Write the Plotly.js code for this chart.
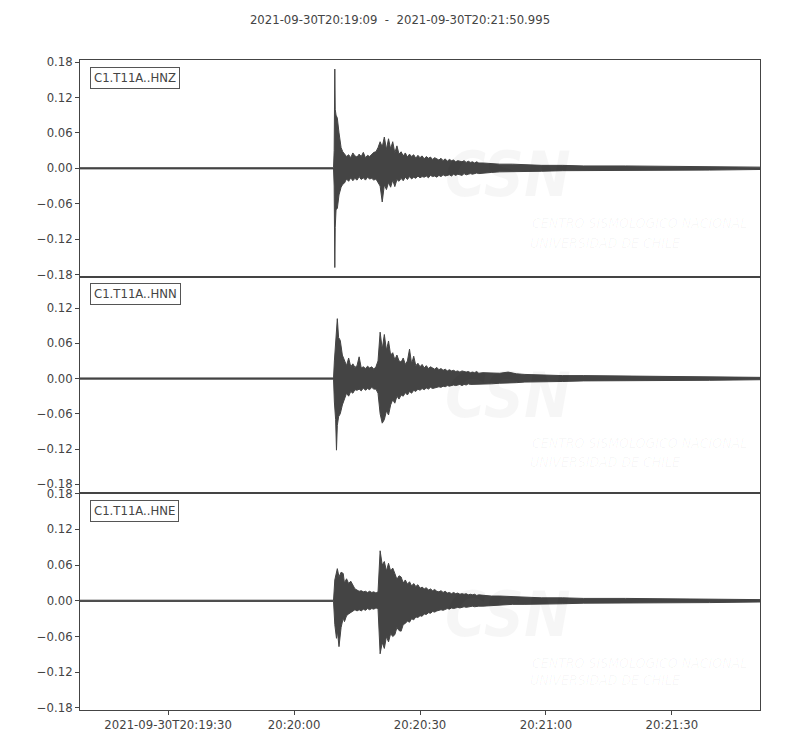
<!DOCTYPE html>
<html>
<head>
<meta charset="utf-8">
<script src="https://cdn.plot.ly/plotly-3.0.1.min.js"></script>
<style>html,body{margin:0;padding:0;background:#fff;}#chart{width:800px;height:750px;}</style>
</head>
<body>
<div id="chart"></div>
<script>
// Times are seconds after 2021-09-30T20:19:09; values are the upper / lower envelope of each trace
const channels = ["C1.T11A..HNZ", "C1.T11A..HNN", "C1.T11A..HNE"];

const tPre = [0, 10, 20, 30, 40, 50];
const tGrid = [63,63.5,64,64.5,65,65.5,66,66.5,67,67.5,68,68.5,69,69.5,70,
  70.5,71,71.5,72,72.5,73,73.5,74,74.5,75,75.5,76,
  76.5,77,77.5,78,78.5,79,79.5,80,80.5,81,81.5,82,82.5,83,83.5,84,84.5,85,
  85.5,86,86.5,87,87.5,88,88.5,89,89.5,90,90.5,91,91.5,92,92.5,93,93.5,94,94.5,95];

// HNZ
const tZ = [...tPre, 60.4,60.55,60.7,60.8,61.0,61.3,61.7,62.2,62.6, ...tGrid, 96,98,100,103,106,110,115,120,130,140,150,162];
const upZ = [0.001,0.001,0.001,0.001,0.001,0.001,
  0.001,0.03,0.168,0.1,0.09,0.085,0.06,0.035,0.028,
  0.025,0.02,0.023,0.018,0.026,0.021,0.019,0.024,0.02,0.027,0.018,0.022,0.02,0.024,0.027,
  0.028,0.035,0.045,0.036,0.053,0.032,0.05,0.033,0.045,0.026,0.038,0.024,
  0.028,0.021,0.026,0.019,0.024,0.02,0.023,0.017,0.022,0.018,0.021,0.016,0.02,0.017,0.019,0.015,0.018,0.016,
  0.014,0.017,0.013,0.016,0.012,0.015,0.013,0.014,0.011,0.013,0.012,0.011,0.013,0.01,0.012,0.01,0.011,0.009,0.011,0.009,
  0.009,0.008,0.007,0.007,0.006,0.005,0.005,0.004,0.004,0.003,0.003,0.002];
const loZ = [-0.001,-0.001,-0.001,-0.001,-0.001,-0.001,
  -0.001,-0.03,-0.168,-0.1,-0.07,-0.068,-0.045,-0.032,-0.027,
  -0.025,-0.018,-0.022,-0.016,-0.021,-0.017,-0.02,-0.014,-0.019,-0.016,-0.02,-0.015,-0.018,-0.017,-0.02,
  -0.018,-0.024,-0.03,-0.057,-0.028,-0.036,-0.024,-0.032,-0.02,-0.031,-0.019,-0.022,
  -0.017,-0.021,-0.015,-0.019,-0.014,-0.018,-0.015,-0.017,-0.013,-0.016,-0.014,-0.015,-0.013,-0.016,-0.012,-0.014,-0.013,-0.015,
  -0.012,-0.014,-0.011,-0.013,-0.012,-0.011,-0.013,-0.01,-0.012,-0.01,-0.011,-0.012,-0.009,-0.011,-0.01,-0.009,-0.01,-0.009,-0.008,-0.009,
  -0.008,-0.007,-0.006,-0.006,-0.005,-0.005,-0.004,-0.004,-0.003,-0.003,-0.003,-0.002];

// HNN
const tN = [...tPre, 60.4,60.6,60.9,61.1,61.3,61.6,62,62.5, ...tGrid, 96,98,100,102,104,106,110,115,120,130,140,150,162];
const upN = [0.001,0.001,0.001,0.001,0.001,0.001,
  0.001,0.03,0.06,0.08,0.102,0.07,0.065,0.04,
  0.03,0.022,0.035,0.02,0.025,0.019,0.022,0.037,0.018,0.02,0.017,0.021,0.018,0.02,0.016,
  0.02,0.03,0.079,0.05,0.075,0.048,0.064,0.04,0.044,0.032,0.04,0.03,
  0.028,0.035,0.024,0.03,0.05,0.025,0.038,0.022,0.026,0.02,0.024,0.018,0.022,0.017,0.02,0.018,0.016,0.019,
  0.015,0.017,0.014,0.016,0.013,0.015,0.013,0.014,0.012,0.013,0.011,0.013,0.012,0.011,0.012,0.01,0.011,0.01,0.012,0.009,
  0.01,0.01,0.009,0.011,0.008,0.007,0.006,0.005,0.005,0.004,0.003,0.003,0.002];
const loN = [-0.001,-0.001,-0.001,-0.001,-0.001,-0.001,
  -0.001,-0.04,-0.07,-0.122,-0.08,-0.065,-0.06,-0.045,
  -0.036,-0.025,-0.03,-0.022,-0.025,-0.019,-0.02,-0.018,-0.021,-0.016,-0.02,-0.017,-0.019,-0.015,-0.018,
  -0.018,-0.025,-0.06,-0.076,-0.07,-0.055,-0.062,-0.045,-0.036,-0.042,-0.03,-0.035,
  -0.028,-0.03,-0.024,-0.028,-0.022,-0.025,-0.02,-0.022,-0.018,-0.02,-0.017,-0.019,-0.016,-0.018,-0.015,-0.017,-0.016,-0.014,
  -0.014,-0.015,-0.013,-0.014,-0.012,-0.013,-0.012,-0.011,-0.012,-0.011,-0.01,-0.012,-0.01,-0.011,-0.009,-0.01,-0.01,-0.009,-0.01,-0.009,
  -0.009,-0.009,-0.008,-0.008,-0.007,-0.006,-0.006,-0.005,-0.004,-0.004,-0.003,-0.003,-0.002];

// HNE
const tE = [...tPre, 60.4,60.7,61.1,61.3,61.7,62.2,62.7, ...tGrid, 96,98,100,103,106,110,115,120,130,140,150,162];
const upE = [0.001,0.001,0.001,0.001,0.001,0.001,
  0.001,0.035,0.045,0.054,0.04,0.048,0.046,
  0.03,0.037,0.029,0.033,0.025,0.02,0.018,0.016,0.017,0.015,0.016,0.014,0.016,0.014,0.015,
  0.013,0.015,0.084,0.06,0.066,0.05,0.063,0.05,0.055,0.046,0.036,0.042,
  0.04,0.03,0.035,0.028,0.032,0.025,0.029,0.024,0.027,0.021,0.023,0.02,0.022,0.018,0.02,0.017,0.019,0.016,
  0.015,0.017,0.014,0.016,0.013,0.014,0.012,0.014,0.012,0.013,0.011,0.012,0.011,0.012,0.01,0.011,0.01,0.011,0.009,0.01,
  0.009,0.008,0.008,0.007,0.006,0.005,0.005,0.004,0.004,0.003,0.003,0.002];
const loE = [-0.001,-0.001,-0.001,-0.001,-0.001,-0.001,
  -0.001,-0.04,-0.063,-0.05,-0.077,-0.045,-0.029,
  -0.035,-0.025,-0.022,-0.02,-0.017,-0.015,-0.017,-0.015,-0.017,-0.014,-0.016,-0.013,-0.015,-0.013,-0.014,
  -0.012,-0.013,-0.089,-0.07,-0.08,-0.06,-0.069,-0.055,-0.06,-0.057,-0.045,-0.05,
  -0.051,-0.04,-0.038,-0.034,-0.036,-0.03,-0.032,-0.027,-0.028,-0.025,-0.026,-0.022,-0.023,-0.02,-0.021,-0.018,-0.019,-0.017,
  -0.016,-0.015,-0.016,-0.014,-0.013,-0.014,-0.012,-0.013,-0.012,-0.011,-0.012,-0.011,-0.01,-0.011,-0.01,-0.01,-0.009,-0.01,-0.009,-0.009,
  -0.009,-0.008,-0.007,-0.006,-0.006,-0.005,-0.005,-0.004,-0.004,-0.003,-0.003,-0.002];

const xTickVals = ["2021-09-30 20:19:30", "2021-09-30 20:20:00", "2021-09-30 20:20:30", "2021-09-30 20:21:00", "2021-09-30 20:21:30"];
const xTickText = ["2021-09-30T20:19:30", "20:20:00", "20:20:30", "20:21:00", "20:21:30"];
const yTickVals = [-0.18, -0.12, -0.06, 0, 0.06, 0.12, 0.18];
const titleText = "2021-09-30T20:19:09  -  2021-09-30T20:21:50.995";

const base = Date.UTC(2021, 8, 30, 20, 19, 9);
function toDate(s) {
  return new Date(base + Math.round(s * 1000)).toISOString().replace('T', ' ').replace('Z', '');
}

const col = '#444444';
const sets = [[tZ, upZ, loZ], [tN, upN, loN], [tE, upE, loE]];
const traces = [];
sets.forEach((s, i) => {
  const xs = s[0].map(toDate);
  const xa = i === 0 ? 'x' : 'x' + (i + 1);
  const ya = i === 0 ? 'y' : 'y' + (i + 1);
  traces.push({x: xs, y: s[2], xaxis: xa, yaxis: ya, type: 'scatter', mode: 'lines',
    line: {color: col, width: 1}, hoverinfo: 'skip', showlegend: false});
  traces.push({x: xs, y: s[1], xaxis: xa, yaxis: ya, type: 'scatter', mode: 'lines',
    line: {color: col, width: 1}, fill: 'tonexty', fillcolor: col, hoverinfo: 'skip', showlegend: false});
});

const font = {family: 'DejaVu Sans, sans-serif', size: 11.7, color: '#444'};
const xRange = ['2021-09-30 20:19:09', '2021-09-30 20:21:50.995'];
function xAxis(anchor, show) {
  return {anchor: anchor, range: xRange, type: 'date', showgrid: false, zeroline: false,
    showline: true, mirror: true, linecolor: col, linewidth: 1,
    ticks: show ? 'outside' : '', ticklen: 4, tickcolor: col, tickwidth: 1,
    showticklabels: show, tickmode: 'array', tickvals: xTickVals, ticktext: xTickText,
    tickfont: font};
}
function yAxis(domain, range, anchor) {
  return {domain: domain, range: range, anchor: anchor, showgrid: false, zeroline: false,
    showline: true, mirror: true, linecolor: col, linewidth: 1,
    ticks: 'outside', ticklen: 4, tickcolor: col, tickwidth: 1,
    tickmode: 'array', tickvals: yTickVals, tickformat: '.2f', tickfont: font};
}

const annotations = [];
const wm = 'rgba(0,0,0,0.035)';
const wmPos = [[0.47, 0.253, 0.157], [0.45, 0.236, 0.144], [0.44, 0.22, 0.138]];
channels.forEach((c, i) => {
  const xr = (i === 0 ? 'x' : 'x' + (i + 1)) + ' domain';
  const yr = (i === 0 ? 'y' : 'y' + (i + 1)) + ' domain';
  annotations.push({text: c, xref: xr, yref: yr, x: 0.015, y: 0.97, xanchor: 'left', yanchor: 'top',
    showarrow: false, font: font, bordercolor: '#555', borderwidth: 1, borderpad: 3, bgcolor: 'white'});
  annotations.push({text: '<b><i>CSN</i></b>', xref: xr, yref: yr, x: 0.63, y: wmPos[i][0],
    xanchor: 'center', yanchor: 'middle', showarrow: false,
    font: {family: 'DejaVu Sans Condensed, DejaVu Sans', size: 62, color: wm}});
  annotations.push({text: '<i>CENTRO SISMOLÓGICO NACIONAL</i>', xref: xr, yref: yr, x: 0.662, y: wmPos[i][1],
    xanchor: 'left', yanchor: 'middle', showarrow: false,
    font: {family: 'DejaVu Sans Condensed, DejaVu Sans', size: 14, color: wm}});
  annotations.push({text: '<i>UNIVERSIDAD DE CHILE</i>', xref: xr, yref: yr, x: 0.659, y: wmPos[i][2],
    xanchor: 'left', yanchor: 'middle', showarrow: false,
    font: {family: 'DejaVu Sans Condensed, DejaVu Sans', size: 14, color: wm}});
});

const layout = {
  width: 800, height: 750,
  margin: {l: 80, r: 40, t: 60, b: 40},
  paper_bgcolor: 'white', plot_bgcolor: 'white',
  font: font,
  title: {text: titleText, x: 0.5, xref: 'container', y: 0.973, yref: 'container', yanchor: 'middle', font: font},
  showlegend: false,
  xaxis: xAxis('y', false),
  xaxis2: xAxis('y2', false),
  xaxis3: xAxis('y3', true),
  yaxis: yAxis([0.6662, 1], [-0.184, 0.1834], 'x'),
  yaxis2: yAxis([0.3338, 0.6662], [-0.195, 0.173], 'x2'),
  yaxis3: yAxis([0, 0.3338], [-0.1834, 0.181], 'x3'),
  annotations: annotations
};

Plotly.newPlot('chart', traces, layout, {displayModeBar: false, staticPlot: true});
</script>
</body>
</html>
